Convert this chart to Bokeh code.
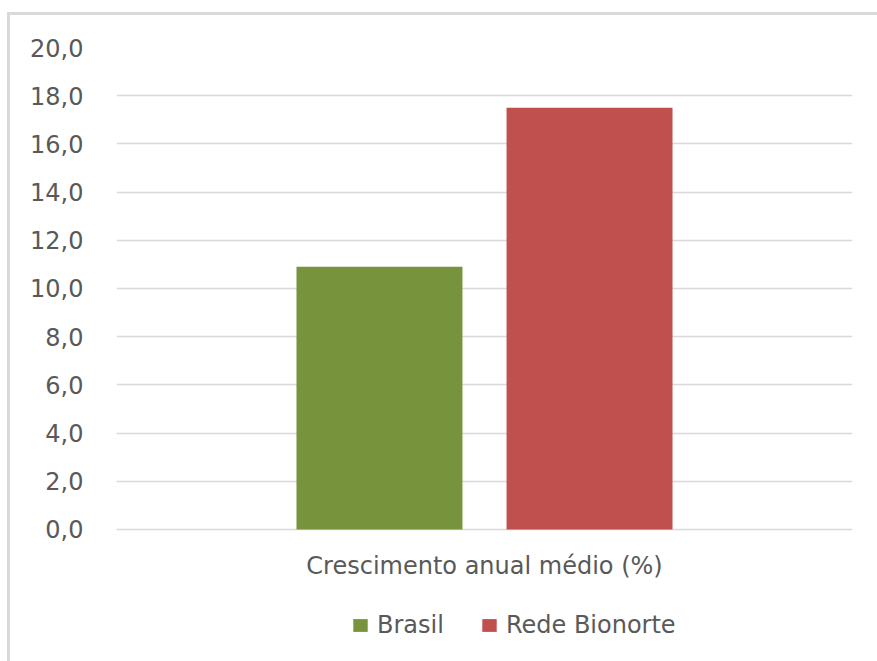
from bokeh.plotting import figure
from bokeh.models import ColumnDataSource, FactorRange, Range1d, Legend, LegendItem, FixedTicker
from bokeh.core.properties import value
from bokeh.transform import dodge
from bokeh.embed import file_html
from bokeh.resources import INLINE

# Data
categories = ["Crescimento anual médio (%)"]
series = ["Brasil", "Rede Bionorte"]
values = [10.9, 17.5]
colors = ["#77933c", "#c0504d"]
y_ticks = [0, 2, 4, 6, 8, 10, 12, 14, 16, 18, 20]
y_tick_labels = ["0,0", "2,0", "4,0", "6,0", "8,0", "10,0", "12,0", "14,0", "16,0", "18,0", "20,0"]

FONT = "DejaVu Sans"
FONT_SIZE = "24px"
TEXT_COLOR = "#595959"
GRID_COLOR = "#d9d9d9"

# The frame reaches below zero so the category label and legend sit inside it
Y_MIN, Y_MAX = -4.9, 20
LABEL_Y = -1.53

p = figure(
    frame_width=736, frame_height=600,
    x_range=FactorRange(*categories, range_padding=0),
    y_range=Range1d(Y_MIN, Y_MAX),
    output_backend="svg", toolbar_location=None,
    min_border_left=106, min_border_right=25, min_border_top=32, min_border_bottom=14,
    margin=(12, 0, 0, 7),
    styles={"border-top": "3px solid #d9d9d9", "border-left": "3px solid #d9d9d9"},
)
p.outline_line_color = None
p.background_fill_color = "white"

offsets = [-0.1427, 0.1427]
bar_width = 0.2255
items = []
for name, val, col, off in zip(series, values, colors, offsets):
    src = ColumnDataSource(dict(cat=categories, val=[val]))
    r = p.vbar(x=dodge("cat", off, range=p.x_range), top="val", width=bar_width,
               source=src, fill_color=col, line_color=None)
    items.append(LegendItem(label=name, renderers=[r]))

# Category label under the bars
p.text(x=categories, y=[LABEL_Y] * len(categories), text=categories,
       text_font=value(FONT), text_font_size=FONT_SIZE, text_color=TEXT_COLOR,
       text_align="center", text_baseline="middle")

# Y axis
p.yaxis.ticker = FixedTicker(ticks=y_ticks)
p.yaxis.major_label_overrides = {t: lab for t, lab in zip(y_ticks, y_tick_labels)}
p.yaxis.axis_line_color = None
p.yaxis.major_tick_line_color = None
p.yaxis.minor_tick_line_color = None
p.yaxis.major_label_standoff = 27
p.yaxis.major_label_text_font = FONT
p.yaxis.major_label_text_font_size = FONT_SIZE
p.yaxis.major_label_text_color = TEXT_COLOR

p.xaxis.visible = False

p.xgrid.grid_line_color = None
p.ygrid.grid_line_color = GRID_COLOR
p.ygrid.grid_line_width = 1.5

# Legend near the bottom of the frame (screen units from its bottom-left)
legend = Legend(items=items, orientation="horizontal", location=(235, 8),
                label_text_font=FONT, label_text_font_size=FONT_SIZE,
                label_text_color=TEXT_COLOR, glyph_width=18, glyph_height=16,
                label_standoff=8, spacing=36, border_line_color=None,
                background_fill_alpha=0, margin=0, padding=0)
p.add_layout(legend)

open("out.html", "w").write(file_html(p, INLINE))
